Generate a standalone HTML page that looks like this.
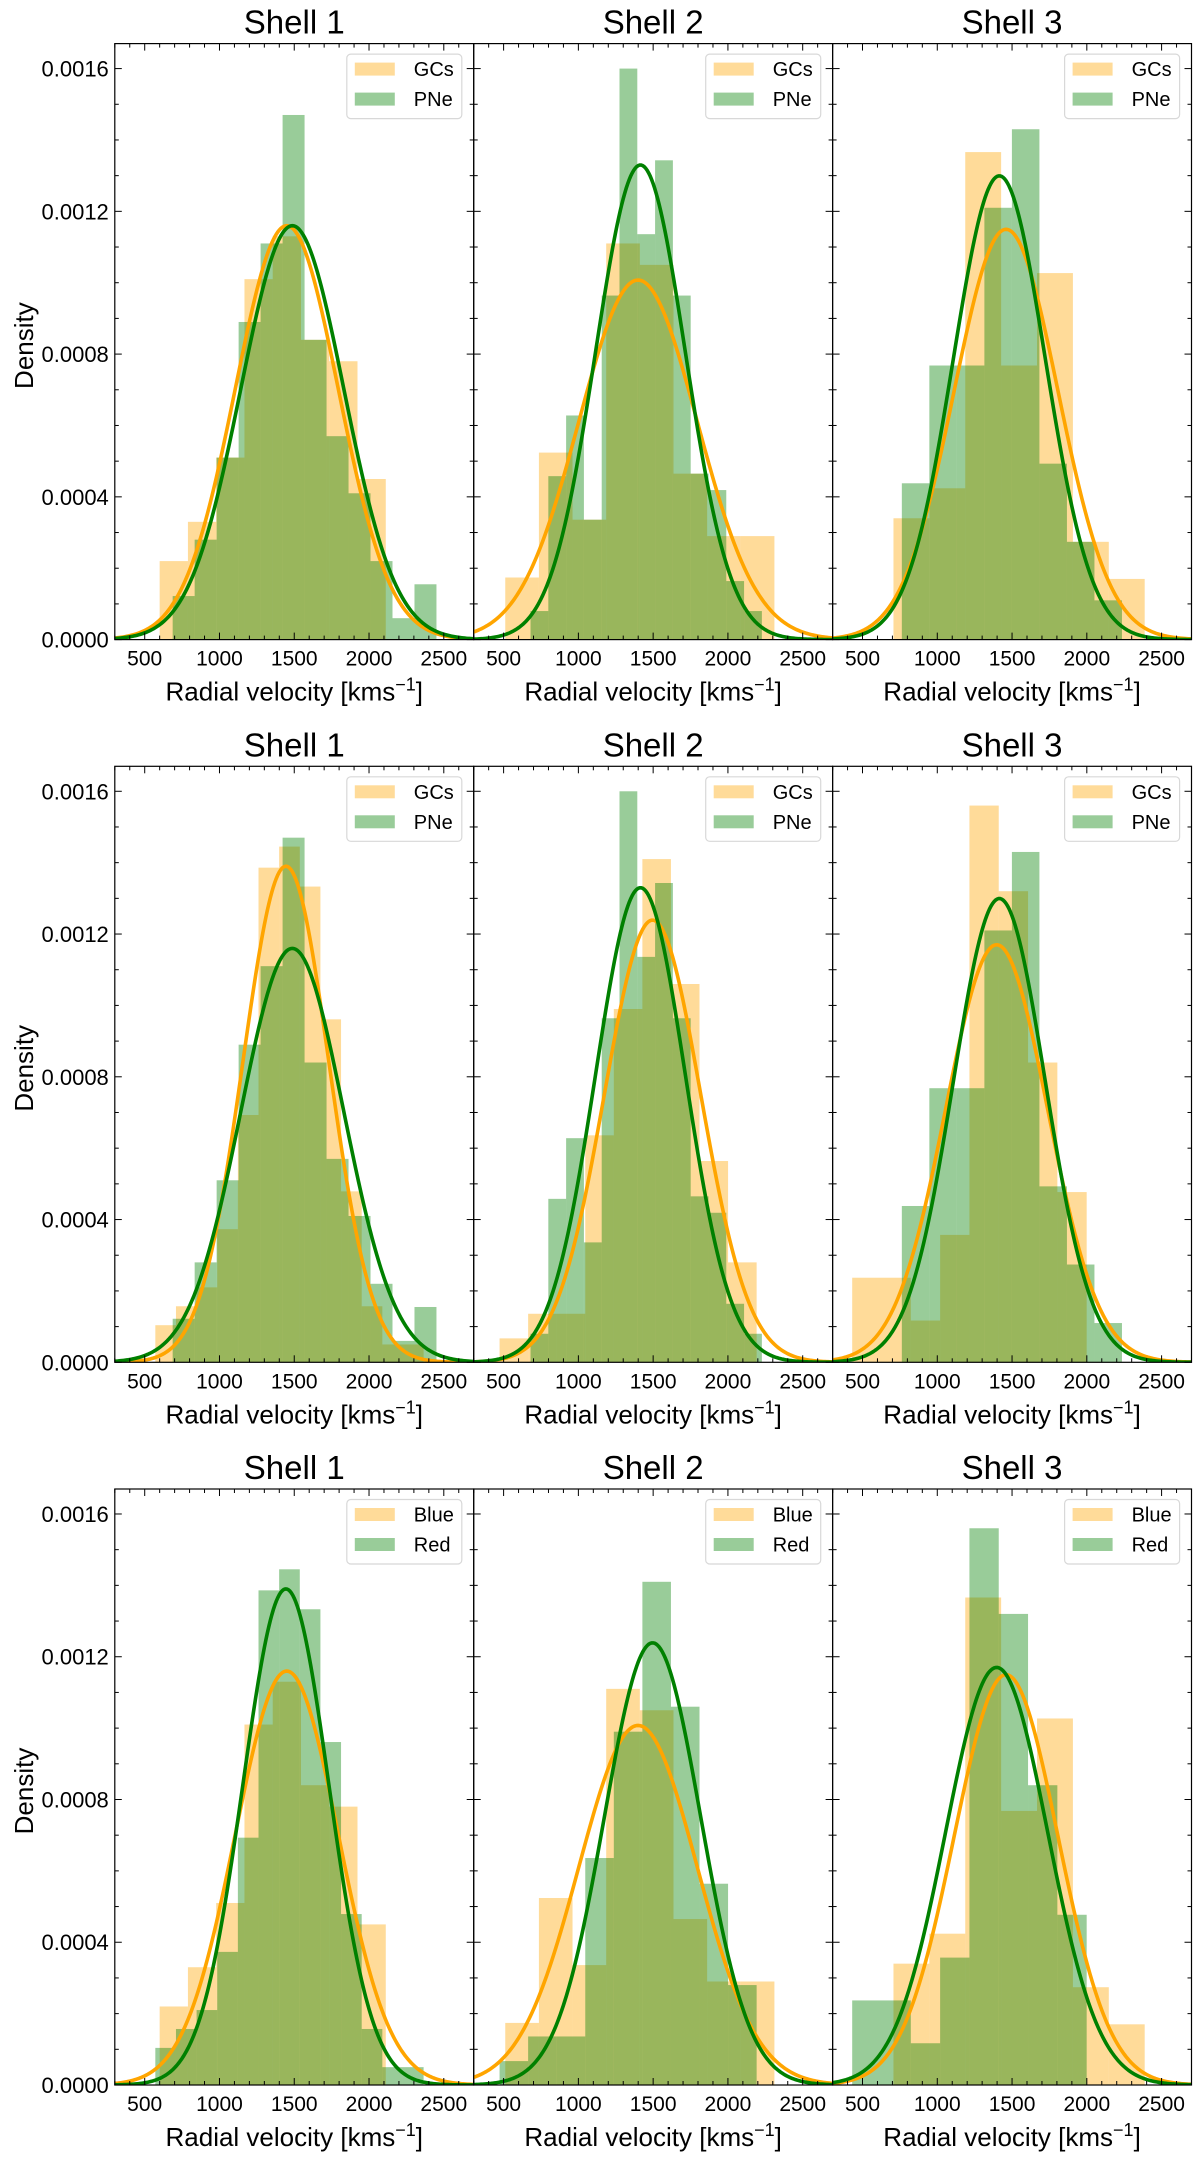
<!DOCTYPE html>
<html><head><meta charset="utf-8">
<style>
html,body{margin:0;padding:0;background:#fff;}
svg text{font-family:"Liberation Sans",Arial,sans-serif;fill:#000;}
</style></head>
<body>
<svg id="fig" xmlns="http://www.w3.org/2000/svg" width="1200" height="2165" viewBox="0 0 1200 2165"></svg>
<script>
// ---- data ----
const shellTitles = ["Shell 1", "Shell 2", "Shell 3"];
const xTickLabels = [500, 1000, 1500, 2000, 2500];
const yTickLabels = ["0.0000", "0.0004", "0.0008", "0.0012", "0.0016"];
const yTickValues = [0, 0.0004, 0.0008, 0.0012, 0.0016];
const rowLegends = [["GCs", "PNe"], ["GCs", "PNe"], ["Blue", "Red"]];

// histogram sets: A = GCs (all), B = PNe, C = GCs subsample / Red
const histA1Start = 600, histA1Width = 189;
const histA1 = [0.00022, 0.00033, 0.00051, 0.00101, 0.00113, 0.00084, 0.00078, 0.00045];
const histA2Start = 511, histA2Width = 225;
const histA2 = [0.000174, 0.000524, 0.000336, 0.00111, 0.00105, 0.000465, 0.00029, 0.00029];
const histA3Start = 707, histA3Width = 240;
const histA3 = [0.00034, 0.000424, 0.001366, 0.000768, 0.001027, 0.000274, 0.00017];

const histB1Start = 687, histB1Width = 147;
const histB1 = [0.000122, 0.00028, 0.00051, 0.00089, 0.00111, 0.00147, 0.00084, 0.00057, 0.00041, 0.00022, 0.00006, 0.000155];
const histB2Start = 680, histB2Width = 119;
const histB2 = [0.00008, 0.000458, 0.000628, 0.000336, 0.000964, 0.0016, 0.001136, 0.001343, 0.000964, 0.000465, 0.000419, 0.000164, 0.00008];
const histB3Start = 763, histB3Width = 184;
const histB3 = [0.000438, 0.000768, 0.000768, 0.00121, 0.00143, 0.000493, 0.000274, 0.00011];

const histC1Start = 571, histC1Width = 138;
const histC1 = [0.000104, 0.000157, 0.00021, 0.000373, 0.000693, 0.001386, 0.001445, 0.001333, 0.000961, 0.000479, 0.000157, 0.00005, 0.00005];
const histC2Start = 473, histC2Width = 191;
const histC2 = [0.000067, 0.000136, 0.000136, 0.000636, 0.00099, 0.00141, 0.00106, 0.000564, 0.00028];
const histC3Start = 431, histC3Width = 196;
const histC3 = [0.000237, 0.000237, 0.000117, 0.000357, 0.00156, 0.00132, 0.00084, 0.000477];

// gaussian fits (mean, sigma)
const fitAMu = [1450, 1399, 1460], fitASigma = [344, 396, 347];
const fitBMu = [1487, 1415, 1415], fitBSigma = [344, 300, 307];
const fitCMu = [1444, 1496, 1397], fitCSigma = [287, 322, 341];

// ---- layout ----
const NS = "http://www.w3.org/2000/svg";
const svg = document.getElementById("fig");
const panelLefts = [114.8, 473.7, 832.6];
const panelW = 358.9;
const rowTops = [43.6, 766.3, 1489];
const panelH = 596;
const xMin = 300, xMax = 2700, yMax = 0.00167;

const H = {
  A: [[histA1Start, histA1Width, histA1], [histA2Start, histA2Width, histA2], [histA3Start, histA3Width, histA3]],
  B: [[histB1Start, histB1Width, histB1], [histB2Start, histB2Width, histB2], [histB3Start, histB3Width, histB3]],
  C: [[histC1Start, histC1Width, histC1], [histC2Start, histC2Width, histC2], [histC3Start, histC3Width, histC3]]
};
const F = { A: [fitAMu, fitASigma], B: [fitBMu, fitBSigma], C: [fitCMu, fitCSigma] };
const rowSets = [["A", "B"], ["C", "B"], ["A", "C"]];

function el(tag, attrs, parent) {
  const e = document.createElementNS(NS, tag);
  for (const k in attrs) e.setAttribute(k, attrs[k]);
  (parent || svg).appendChild(e);
  return e;
}

for (let r = 0; r < 3; r++) {
  for (let c = 0; c < 3; c++) {
    const L = panelLefts[c], T = rowTops[r];
    const sx = v => L + (v - xMin) / (xMax - xMin) * panelW;
    const sy = v => T + panelH - v / yMax * panelH;
    const g = el("g", {});
    
    
    const clipId = "clip" + r + c;
    const cp = el("clipPath", { id: clipId }, g);
    el("rect", { x: L, y: T, width: panelW, height: panelH }, cp);

    // title
    const t = el("text", { x: L + panelW / 2, y: T - 10, "text-anchor": "middle", "font-size": "33" }, g);
    t.textContent = shellTitles[c];
    
    

    const plot = el("g", { "clip-path": "url(#" + clipId + ")" }, g);
    const colors = ["#ffa500", "#008000"];
    const setKeys = rowSets[r];
    // histograms
    setKeys.forEach((k, si) => {
      const [start, width, vals] = H[k][c];
      vals.forEach((v, i) => {
        if (v <= 0) return;
        const x0 = sx(start + i * width), x1 = sx(start + (i + 1) * width);
        const b = el("rect", { x: x0, y: sy(v), width: x1 - x0, height: sy(0) - sy(v), fill: colors[si], "fill-opacity": 0.4 }, plot);
        
        
      });
    });
    // fits
    setKeys.forEach((k, si) => {
      const mu = F[k][0][c], sg = F[k][1][c];
      let d = "";
      for (let x = xMin; x <= xMax; x += 10) {
        const y = Math.exp(-0.5 * ((x - mu) / sg) ** 2) / (sg * Math.sqrt(2 * Math.PI));
        d += (x === xMin ? "M" : "L") + sx(x).toFixed(2) + "," + sy(y).toFixed(2);
      }
      const p = el("path", { d: d, fill: "none", stroke: colors[si], "stroke-width": 3.6 }, plot);
      
      
    });

    // ticks
    const tk = el("g", { stroke: "#000", "stroke-width": 1 }, g);
    for (let v = 0; v <= 0.00165; v += 0.0001) {
      const y = sy(v), major = Math.round(v / 0.0001) % 4 === 0;
      const len = major ? 7 : 4;
      el("line", { x1: L, y1: y, x2: L + len, y2: y }, tk);
      el("line", { x1: L + panelW, y1: y, x2: L + panelW - len, y2: y }, tk);
    }
    for (let v = 300; v <= 2700; v += 100) {
      const x = sx(v), major = v % 500 === 0;
      const len = major ? 7 : 4;
      el("line", { x1: x, y1: T + panelH, x2: x, y2: T + panelH - len }, tk);
      el("line", { x1: x, y1: T, x2: x, y2: T + len }, tk);
    }
    // frame
    const fr = el("rect", { x: L, y: T, width: panelW, height: panelH, fill: "none", stroke: "#000", "stroke-width": 1.2 }, g);
    
    

    // x tick labels
    xTickLabels.forEach(v => {
      const tx = el("text", { x: sx(v), y: T + panelH + 26, "text-anchor": "middle", "font-size": "21" }, g);
      tx.textContent = v;
      
      
    });
    // x axis title
    const xl = el("text", { x: L + panelW / 2, y: T + panelH + 61, "text-anchor": "middle", "font-size": "26" }, g);
    
    
    const ts1 = el("tspan", {}, xl); ts1.textContent = "Radial velocity [kms";
    const ts2 = el("tspan", { dy: "-10", "font-size": "18" }, xl); ts2.textContent = "\u22121";
    const ts3 = el("tspan", { dy: "10" }, xl); ts3.textContent = "]";

    // y tick labels on first column
    if (c === 0) {
      yTickValues.forEach((v, i) => {
        const ty = el("text", { x: L - 6, y: sy(v) + 8, "text-anchor": "end", "font-size": "22" }, g);
        ty.textContent = yTickLabels[i];
        
        
      });
      const yl = el("text", { x: 0, y: 0, "text-anchor": "middle", "font-size": "26", transform: "translate(33," + (T + 302) + ") rotate(-90)" }, g);
      yl.textContent = "Density";
      
      
    }

    // legend
    const lg = el("g", {}, g);
    
    
    el("rect", { x: L + 232, y: T + 10.5, width: 115, height: 64.5, rx: 4, fill: "#fff", "fill-opacity": 0.85, stroke: "#d8d8d8", "stroke-width": 1.2 }, lg);
    rowLegends[r].forEach((name, i) => {
      const cy = T + 25.5 + i * 30;
      const sw = el("rect", { x: L + 240, y: cy - 6.5, width: 40, height: 13, fill: colors[i], "fill-opacity": 0.4 }, lg);
      
      
      const lt = el("text", { x: L + 299, y: cy + 7, "font-size": "20" }, lg);
      lt.textContent = name;
      
      
    });
  }
}
</script>
</body></html>
